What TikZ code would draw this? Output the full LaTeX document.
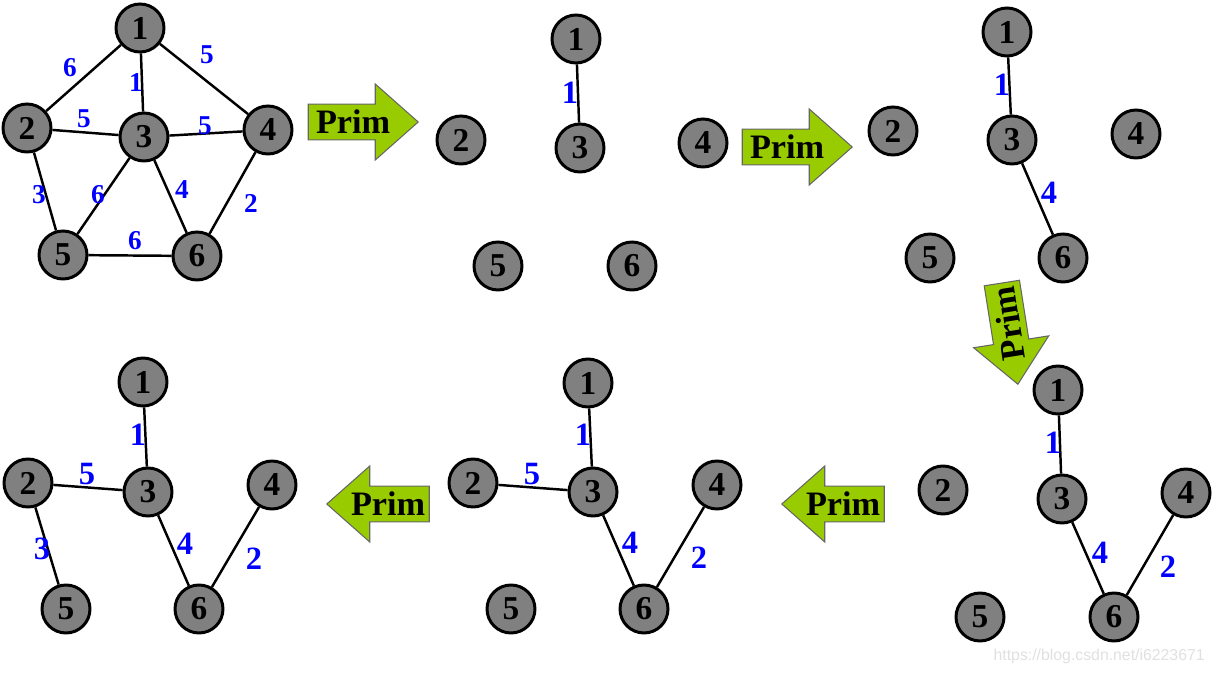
\documentclass[tikz,border=0pt]{standalone}
\usepackage{fontspec}
\setmainfont{Liberation Serif}
\newfontfamily\wmfont{Liberation Sans}
\usetikzlibrary{shapes.arrows}
\definecolor{primgreen}{RGB}{153,204,0}
\definecolor{weightblue}{RGB}{0,0,255}
\definecolor{vertexgray}{RGB}{128,128,128}

\begin{document}
\begin{tikzpicture}[x=0.02cm, y=-0.02cm,
    vertex/.style={draw, circle, line width=1.7pt, fill=vertexgray, minimum size=0.96cm, inner sep=0pt, font=\fontsize{19}{20}\selectfont\bfseries},
    weight/.style={text=weightblue, inner sep=0pt, font=\fontsize{18.5}{19}\selectfont\bfseries},
    smallweight/.style={weight, font=\fontsize{15.5}{16}\selectfont\bfseries},
    link/.style={line width=1.4pt},
    primarrow/.style={single arrow, draw=black!60, fill=primgreen, line width=0.6pt, minimum height=2.2cm, minimum width=1.52cm, single arrow head extend=0.36cm, single arrow tip angle=83, inner sep=2pt, anchor=tip, font=\fontsize{19.5}{20}\selectfont\bfseries},
    leftarrow/.style={primarrow, shape border rotate=180}]
    \useasboundingbox (0,0) rectangle (1215,675);

    % Full graph
    \node[vertex] (a1) at (140,28) {1};
    \node[vertex] (a2) at (27,128) {2};
    \node[vertex] (a3) at (144,137) {3};
    \node[vertex] (a4) at (268,130) {4};
    \node[vertex] (a5) at (63,255) {5};
    \node[vertex] (a6) at (197,256) {6};
    \draw[link] (a1) -- (a2);
    \draw[link] (a1) -- (a3);
    \draw[link] (a1) -- (a4);
    \draw[link] (a2) -- (a3);
    \draw[link] (a3) -- (a4);
    \draw[link] (a2) -- (a5);
    \draw[link] (a3) -- (a5);
    \draw[link] (a3) -- (a6);
    \draw[link] (a4) -- (a6);
    \draw[link] (a5) -- (a6);
    \node[smallweight] (wa12) at (70,68) {6};
    \node[smallweight] (wa13) at (136,83) {1};
    \node[smallweight] (wa14) at (207,55) {5};
    \node[smallweight] (wa23) at (84,119) {5};
    \node[smallweight] (wa34) at (205,126) {5};
    \node[smallweight] (wa25) at (39,195) {3};
    \node[smallweight] (wa35) at (98,195) {6};
    \node[smallweight] (wa36) at (182,190) {4};
    \node[smallweight] (wa46) at (251,203) {2};
    \node[smallweight] (wa56) at (135,241) {6};

    % Step 1
    \node[primarrow] (p1) at (419,122) {Prim};
    \node[vertex] (b1) at (576,39) {1};
    \node[vertex] (b2) at (461,140) {2};
    \node[vertex] (b3) at (580,148) {3};
    \node[vertex] (b4) at (703,143) {4};
    \node[vertex] (b5) at (498,266) {5};
    \node[vertex] (b6) at (632,266) {6};
    \draw[link] (b1) -- (b3);
    \node[weight] (wb13) at (570,93) {1};

    % Step 2
    \node[primarrow] (p2) at (853,147) {Prim};
    \node[vertex] (c1) at (1007,32) {1};
    \node[vertex] (c2) at (893,131) {2};
    \node[vertex] (c3) at (1012,140) {3};
    \node[vertex] (c4) at (1136,134) {4};
    \node[vertex] (c5) at (930,258) {5};
    \node[vertex] (c6) at (1063,258) {6};
    \draw[link] (c1) -- (c3);
    \draw[link] (c3) -- (c6);
    \node[weight] (wc13) at (1002,85) {1};
    \node[weight] (wc36) at (1049,193) {4};

    % Step 3
    \node[leftarrow, rotate=99, minimum height=2.04cm] (p3) at (1018,385) {Prim};
    \node[vertex] (d1) at (1058,390) {1};
    \node[vertex] (d2) at (943,490) {2};
    \node[vertex] (d3) at (1062,499) {3};
    \node[vertex] (d4) at (1186,493) {4};
    \node[vertex] (d5) at (980,617) {5};
    \node[vertex] (d6) at (1114,617) {6};
    \draw[link] (d1) -- (d3);
    \draw[link] (d3) -- (d6);
    \draw[link] (d4) -- (d6);
    \node[weight] (wd13) at (1053,443) {1};
    \node[weight] (wd36) at (1100,553) {4};
    \node[weight] (wd46) at (1168,567) {2};

    % Step 4
    \node[leftarrow, minimum height=2.02cm] (p4) at (781,504) {Prim};
    \node[vertex] (e1) at (588,383) {1};
    \node[vertex] (e2) at (473,483) {2};
    \node[vertex] (e3) at (593,492) {3};
    \node[vertex] (e4) at (717,485) {4};
    \node[vertex] (e5) at (511,609) {5};
    \node[vertex] (e6) at (644,609) {6};
    \draw[link] (e1) -- (e3);
    \draw[link] (e2) -- (e3);
    \draw[link] (e3) -- (e6);
    \draw[link] (e4) -- (e6);
    \node[weight] (we13) at (583,435) {1};
    \node[weight] (we23) at (532,474) {5};
    \node[weight] (we36) at (630,543) {4};
    \node[weight] (we46) at (699,558) {2};

    % Step 5
    \node[leftarrow, minimum height=2.04cm] (p5) at (326,504) {Prim};
    \node[vertex] (f1) at (143,382) {1};
    \node[vertex] (f2) at (28,483) {2};
    \node[vertex] (f3) at (148,492) {3};
    \node[vertex] (f4) at (272,485) {4};
    \node[vertex] (f5) at (66,609) {5};
    \node[vertex] (f6) at (199,609) {6};
    \draw[link] (f1) -- (f3);
    \draw[link] (f2) -- (f3);
    \draw[link] (f2) -- (f5);
    \draw[link] (f3) -- (f6);
    \draw[link] (f4) -- (f6);
    \node[weight] (wf13) at (138,435) {1};
    \node[weight] (wf23) at (87,474) {5};
    \node[weight] (wf25) at (42,549) {3};
    \node[weight] (wf36) at (185,544) {4};
    \node[weight] (wf46) at (254,559) {2};

    % watermark
    \node[anchor=east, text=black!12, inner sep=0pt, font=\wmfont\fontsize{9}{10}\selectfont] (mark) at (1205,656) {https://blog.csdn.net/i6223671};
\end{tikzpicture}
\end{document}
